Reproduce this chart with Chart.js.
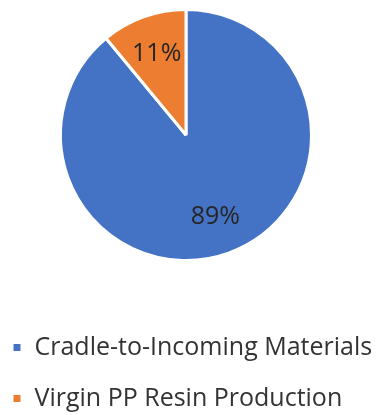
<!DOCTYPE html>
<html>
<head>
<meta charset="utf-8">
<script src="https://cdn.jsdelivr.net/npm/chart.js@4"></script>
<style>
  html, body { margin: 0; padding: 0; background: #fff; }
  #wrap { width: 379px; height: 415px; }
</style>
</head>
<body>
<div id="wrap"><canvas id="pie"></canvas></div>
<script>
const categories = ['Cradle-to-Incoming Materials', 'Virgin PP Resin Production'];
const shares = [89, 11];
const sliceColors = ['#4472C4', '#ED7D31'];

const FONT = '"Open Sans", "Liberation Sans", sans-serif';

// draws the % text inside each slice
const sliceLabels = {
  id: 'sliceLabels',
  afterDatasetsDraw(chart) {
    const ctx = chart.ctx;
    const meta = chart.getDatasetMeta(0);
    ctx.save();
    ctx.font = '25px ' + FONT;
    ctx.fillStyle = '#262626';
    ctx.textAlign = 'center';
    ctx.textBaseline = 'middle';
    meta.data.forEach((arc, i) => {
      const p = arc.getProps(['x', 'y', 'startAngle', 'endAngle', 'outerRadius'], true);
      const mid = (p.startAngle + p.endAngle) / 2;
      const r = p.outerRadius * 0.69;
      ctx.fillText(shares[i] + '%', p.x + Math.cos(mid) * r, p.y + Math.sin(mid) * r);
    });
    ctx.restore();
  }
};

// legend rows need a big gap between them but must still start near the left edge,
// so slide the legend's left edge back after layout
const legendShift = {
  id: 'legendShift',
  afterLayout(chart) {
    chart.legend.left -= 14;
  }
};

new Chart(document.getElementById('pie'), {
  type: 'pie',
  data: {
    labels: categories,
    datasets: [{
      data: shares,
      backgroundColor: sliceColors,
      borderColor: '#fff',
      borderWidth: 3
    }]
  },
  options: {
    responsive: true,
    maintainAspectRatio: false,
    animation: false,
    layout: { padding: { top: 8, right: 7, left: 0, bottom: -6 } },
    plugins: {
      tooltip: { enabled: false },
      legend: {
        position: 'bottom',
        align: 'start',
        // empty title just to push the rows down below the pie
        title: { display: true, text: '', font: { size: 10, lineHeight: 1 }, padding: { top: 37, bottom: 0 } },
        labels: {
          boxWidth: 10,
          boxHeight: 10,
          padding: 26,
          color: '#333',
          font: { family: FONT, size: 25 }
        }
      }
    }
  },
  plugins: [sliceLabels, legendShift]
});
</script>
</body>
</html>
